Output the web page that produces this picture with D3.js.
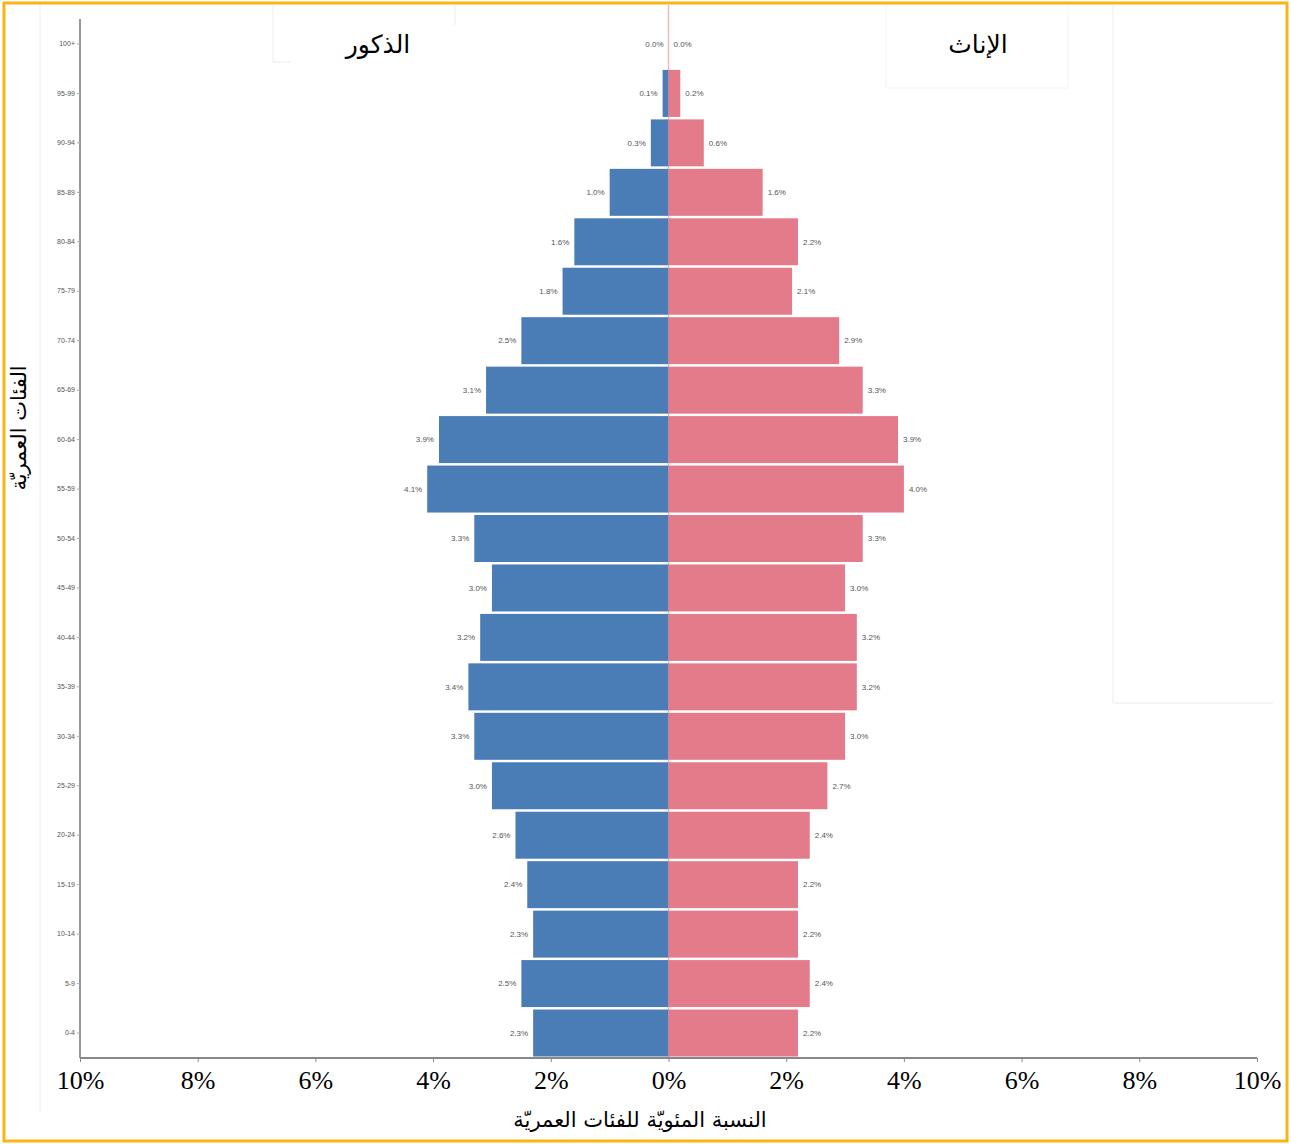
<!DOCTYPE html>
<html>
<head>
<meta charset="utf-8">
<script src="https://cdn.jsdelivr.net/npm/d3@7"></script>
<style>
  body { margin: 0; background: #fff; }
  svg { display: block; }
  .serif { font-family: "Liberation Serif", "Times New Roman", Times, "DejaVu Serif", serif; }
</style>
</head>
<body>
<svg width="1291" height="1144"></svg>
<script>
var ageGroups = ["0-4", "5-9", "10-14", "15-19", "20-24", "25-29", "30-34", "35-39", "40-44",
  "45-49", "50-54", "55-59", "60-64", "65-69", "70-74", "75-79", "80-84", "85-89", "90-94",
  "95-99", "100+"];
var males = [2.3, 2.5, 2.3, 2.4, 2.6, 3.0, 3.3, 3.4, 3.2, 3.0, 3.3, 4.1, 3.9, 3.1, 2.5, 1.8, 1.6, 1.0, 0.3, 0.1, 0.0];
var females = [2.2, 2.4, 2.2, 2.2, 2.4, 2.7, 3.0, 3.2, 3.2, 3.0, 3.3, 4.0, 3.9, 3.3, 2.9, 2.1, 2.2, 1.6, 0.6, 0.2, 0.0];
var xTicks = [-10, -8, -6, -4, -2, 0, 2, 4, 6, 8, 10];

var maleTitle = "الذكور",
    femaleTitle = "الإناث",
    xTitle = "النسبة المئويّة للفئات العمريّة",
    yTitle = "الفئات العمريّة";

var svg = d3.select("svg");

var rows = ageGroups.map(function(a, i) {
  return { age: a, male: males[i], female: females[i] };
});

var x = d3.scaleLinear().domain([-10, 10]).range([80, 1257]);
var y = d3.scaleBand().domain(ageGroups.slice().reverse()).range([19, 1058]).paddingInner(0.05).paddingOuter(0.03);

// faint leftovers of the original page layout
var faint = svg.append("g").attr("stroke", "#ececec").attr("fill", "none");
faint.append("path").attr("d", "M1113,5V703H1273");
faint.append("path").attr("d", "M40,5V1112");
faint.append("path").attr("d", "M273,5V62H290");
faint.append("path").attr("d", "M455,5V25");
faint.append("path").attr("d", "M886,5V88H1068V5").attr("stroke", "#f3f3f3");

// zero line
svg.append("line")
    .attr("x1", x(0)).attr("x2", x(0))
    .attr("y1", 5).attr("y2", 1058)
    .attr("stroke", "#f2b8bf").attr("stroke-width", 1.5);

var bars = svg.append("g");
bars.selectAll("rect.male")
    .data(rows)
    .enter().append("rect")
      .attr("class", "male")
      .attr("x", function(d) { return x(-d.male); })
      .attr("y", function(d) { return y(d.age); })
      .attr("width", function(d) { return x(0) - x(-d.male); })
      .attr("height", y.bandwidth())
      .attr("fill", "#4a7cb5");

bars.selectAll("rect.female")
    .data(rows)
    .enter().append("rect")
      .attr("class", "female")
      .attr("x", x(0))
      .attr("y", function(d) { return y(d.age); })
      .attr("width", function(d) { return x(d.female) - x(0); })
      .attr("height", y.bandwidth())
      .attr("fill", "#e37b8a");

var labels = svg.append("g")
    .style("font-family", "'Liberation Sans', Arial, sans-serif")
    .style("font-size", "8px")
    .attr("fill", "#555");

labels.selectAll("text.male")
    .data(rows)
    .enter().append("text")
      .attr("x", function(d) { return x(-d.male) - 5; })
      .attr("y", function(d) { return y(d.age) + y.bandwidth() / 2; })
      .attr("dy", "0.35em")
      .attr("text-anchor", "end")
      .text(function(d) { return d.male.toFixed(1) + "%"; });

labels.selectAll("text.female")
    .data(rows)
    .enter().append("text")
      .attr("x", function(d) { return x(d.female) + 5; })
      .attr("y", function(d) { return y(d.age) + y.bandwidth() / 2; })
      .attr("dy", "0.35em")
      .attr("text-anchor", "start")
      .text(function(d) { return d.female.toFixed(1) + "%"; });

// y axis
var yAxis = svg.append("g")
    .attr("transform", "translate(80,0)")
    .call(d3.axisLeft(y).tickSize(3).tickPadding(2));
yAxis.select(".domain").attr("stroke", "#999").attr("stroke-width", 2)
    .attr("d", "M0,19V1058");
yAxis.selectAll(".tick line").attr("stroke", "#aaa");
yAxis.selectAll(".tick text")
    .style("font-family", "'Liberation Sans', Arial, sans-serif")
    .style("font-size", "7px").attr("fill", "#555");

// x axis
var xAxis = svg.append("g")
    .attr("transform", "translate(0,1058)")
    .call(d3.axisBottom(x).tickValues(xTicks).tickSize(4).tickPadding(9)
      .tickFormat(function(d) { return Math.abs(d) + "%"; }));
xAxis.attr("font-family", null);
xAxis.select(".domain").attr("stroke", "#888").attr("stroke-width", 2)
    .attr("d", "M80,0H1257");
xAxis.selectAll(".tick line").attr("stroke", "#888");
xAxis.selectAll(".tick text")
    .attr("class", "serif")
    .style("font-size", "26px").attr("fill", "#000");

// titles
var arab = "'DejaVu Sans', sans-serif";
svg.append("text")
    .attr("x", 378).attr("y", 53)
    .attr("text-anchor", "middle")
    .style("font-family", arab).style("font-size", "25px")
    .attr("direction", "rtl")
    .text(maleTitle);
svg.append("text")
    .attr("x", 978).attr("y", 53)
    .attr("text-anchor", "middle")
    .style("font-family", arab).style("font-size", "25px")
    .attr("direction", "rtl")
    .text(femaleTitle);
svg.append("text")
    .attr("x", 640).attr("y", 1127)
    .attr("text-anchor", "middle")
    .style("font-family", arab).style("font-size", "21px")
    .text(xTitle);
svg.append("text")
    .attr("transform", "translate(26,428) rotate(-90)")
    .attr("text-anchor", "middle")
    .style("font-family", arab).style("font-size", "21px")
    .text(yTitle);

// frame
svg.append("rect")
    .attr("x", 4).attr("y", 3)
    .attr("width", 1283).attr("height", 1138)
    .attr("fill", "none")
    .attr("stroke", "#f6b616").attr("stroke-width", 3);
</script>
</body>
</html>
